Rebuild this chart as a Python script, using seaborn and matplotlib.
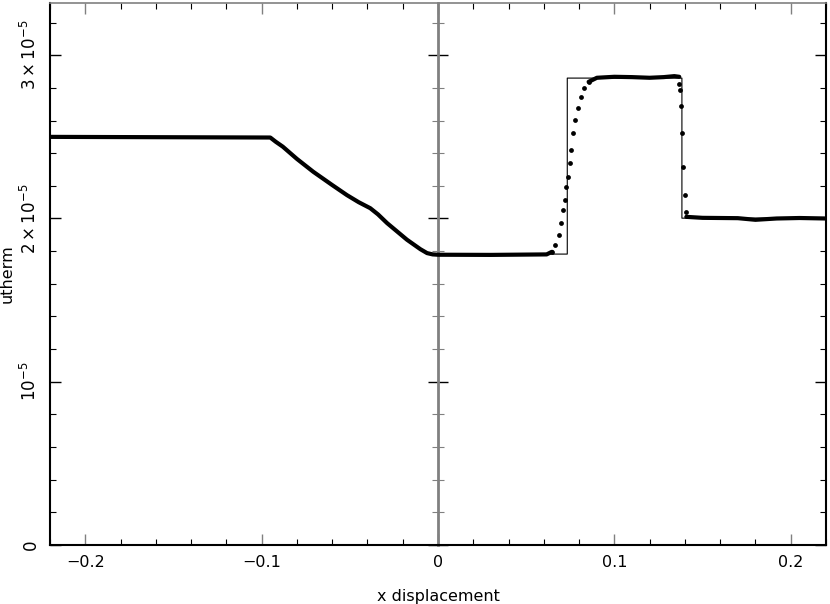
import matplotlib
matplotlib.use("Agg")
import matplotlib.pyplot as plt
import seaborn as sns
import pandas as pd

# ---- data (utherm in units of 1e-5) ----
# analytic solution
x_exact = [-0.22, -0.0951, -0.088, -0.0707, -0.0516, -0.0384, -0.0289, -0.0176, -0.0062,
           0.0733, 0.0733, 0.1383, 0.1383, 0.22]
u_exact = [2.500, 2.494, 2.440, 2.286, 2.143, 2.063, 1.972, 1.870, 1.782,
           1.782, 2.860, 2.860, 2.002, 2.002]

# dense particle runs
x_left = [-0.22, -0.0951, -0.092, -0.088, -0.080, -0.0707, -0.060, -0.0516, -0.045,
          -0.0384, -0.034, -0.0289, -0.0176, -0.010, -0.0062, -0.003,
          0.0, 0.03, 0.0616, 0.0646]
u_left = [2.500, 2.496, 2.470, 2.440, 2.365, 2.286, 2.205, 2.143, 2.100,
          2.063, 2.025, 1.972, 1.870, 1.812, 1.788, 1.780,
          1.778, 1.777, 1.780, 1.796]
x_plat = [0.0854, 0.0901, 0.100, 0.110, 0.120, 0.128, 0.134, 0.1368]
u_plat = [2.837, 2.862, 2.868, 2.866, 2.862, 2.866, 2.872, 2.868]
x_right = [0.1408, 0.150, 0.170, 0.180, 0.192, 0.205, 0.22]
u_right = [2.010, 2.004, 2.002, 1.992, 2.000, 2.003, 2.000]

# sparse particles in contact and shock
x_dots = [0.0646, 0.0665, 0.0684, 0.0697, 0.0709, 0.0718, 0.0726, 0.0737, 0.0746, 0.0754,
          0.0765, 0.0778, 0.0791, 0.0811, 0.0825, 0.0854,
          0.1368, 0.1372, 0.1378, 0.1383, 0.1392, 0.1398, 0.1408]
u_dots = [1.796, 1.837, 1.898, 1.970, 2.051, 2.113, 2.194, 2.255, 2.337, 2.419,
          2.521, 2.603, 2.674, 2.745, 2.797, 2.837,
          2.823, 2.786, 2.690, 2.521, 2.317, 2.143, 2.041]

y_ticks = [0, 1e-5, 2e-5, 3e-5]
y_ticklabels = ["0", r"$10^{-5}$", r"$2\times10^{-5}$", r"$3\times10^{-5}$"]
x_ticks = [-0.2, -0.1, 0, 0.1, 0.2]
x_ticklabels = ["\u22120.2", "\u22120.1", "0", "0.1", "0.2"]

sns.set_style("ticks")
plt.rcParams["font.family"] = ["DejaVu Sans"]
plt.rcParams.update({"text.color": "black", "axes.labelcolor": "black",
                     "xtick.color": "black", "ytick.color": "black",
                     "xtick.labelcolor": "black", "ytick.labelcolor": "black"})

fig = plt.figure(figsize=(8.3, 6.04), dpi=100)
ax = fig.add_axes([50 / 830, 1 - 545 / 604, 776 / 830, 542 / 604])

def df(x, u):
    return pd.DataFrame({"x": x, "u": [v * 1e-5 for v in u]})

sns.lineplot(data=df(x_exact, u_exact), x="x", y="u", sort=False, estimator=None,
             color="black", lw=0.8, ax=ax)
for xs, us in [(x_left, u_left), (x_plat, u_plat), (x_right, u_right)]:
    sns.lineplot(data=df(xs, us), x="x", y="u", sort=False, estimator=None,
                 color="black", lw=3.0, solid_joinstyle="round",
                 solid_capstyle="round", ax=ax)
sns.scatterplot(data=df(x_dots, u_dots), x="x", y="u", color="black", s=12,
                edgecolor="black", linewidth=0, ax=ax)

ax.set_xlim(-0.22, 0.22)
ax.set_ylim(0, 3.32e-5)
ax.set_xticks(x_ticks)
ax.set_xticklabels(x_ticklabels)
ax.set_yticks(y_ticks)
ax.set_yticklabels(y_ticklabels)
ax.set_xticks([i * 0.02 for i in range(-11, 12)], minor=True)
ax.set_yticks([i * 0.2e-5 for i in range(0, 17)], minor=True)
ax.tick_params(which="both", direction="in", top=True, right=True, pad=7,
               colors="black")
ax.tick_params(axis="x", labelsize=11.5)
ax.tick_params(axis="y", labelsize=12)
ax.tick_params(which="major", length=8, width=1.0)
ax.tick_params(which="minor", length=4, width=0.8)
ax.tick_params(axis="x", which="major", color="gray")
for lab in ax.get_yticklabels():
    lab.set_rotation(90)
    lab.set_va("center")

for side in ["left", "bottom", "right"]:
    ax.spines[side].set_color("black")
    ax.spines[side].set_linewidth(1.5)
ax.spines["top"].set_color("gray")
ax.spines["top"].set_linewidth(1.2)

# axis line at x = 0
sec = ax.secondary_yaxis(0.5)
sec.spines["left"].set_visible(False)
sec.spines["right"].set_color("gray")
sec.spines["right"].set_linewidth(2.0)
sec.set_yticks(y_ticks)
sec.set_yticks([i * 0.2e-5 for i in range(0, 17)], minor=True)
sec.set_yticklabels([])
sec.yaxis.get_offset_text().set_visible(False)
sec.tick_params(which="both", direction="inout", labelleft=False, labelright=False)
sec.tick_params(which="major", length=14, width=1.0, color="black")
sec.tick_params(which="minor", length=8, width=0.8, color="gray")

ax.set_xlabel("x displacement", fontsize=11.5, labelpad=14)
ax.set_ylabel("utherm", fontsize=11.5, labelpad=4)

fig.savefig("out.png", dpi=100)
